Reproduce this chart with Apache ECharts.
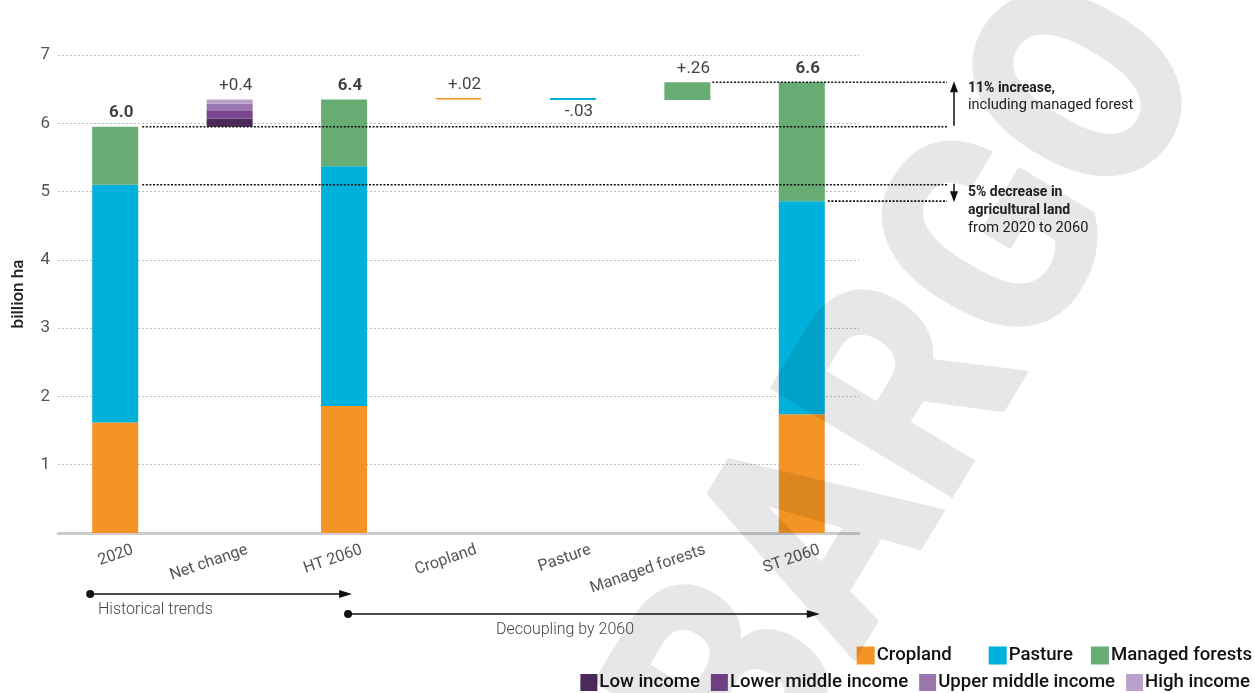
<!DOCTYPE html>
<html><head><meta charset="utf-8">
<script src="https://cdn.jsdelivr.net/npm/echarts@6/dist/echarts.min.js"></script>
<style>html,body{margin:0;padding:0;background:#fff}#c{width:1255px;height:693px}</style>
</head><body><div id="c"></div>
<script>
// ---- data ----
const categories = ['2020', 'Net change', 'HT 2060', 'Cropland', 'Pasture', 'Managed forests', 'ST 2060'];
const baseOffset = [0, 5.95, 0, 6.35, 6.34, 6.34, 0];
const cropland = [1.62, 0, 1.86, 0.02, 0, 0, 1.74];
const pasture = [3.48, 0, 3.51, 0, 0.03, 0, 3.12];
const managedForests = [0.85, 0, 0.98, 0, 0, 0.26, 1.74];
const lowIncome = [0, 0.12, 0, 0, 0, 0, 0];
const lowerMiddleIncome = [0, 0.12, 0, 0, 0, 0, 0];
const upperMiddleIncome = [0, 0.10, 0, 0, 0, 0, 0];
const highIncome = [0, 0.06, 0, 0, 0, 0, 0];
const valueLabels = ['6.0', '+0.4', '6.4', '+.02', '-.03', '+.26', '6.6'];
const labelAnchor = [5.95, 6.35, 6.35, 6.37, 6.34, 6.60, 6.60];
const labelBelow = [false, false, false, false, true, false, false];
const labelBold = [true, false, true, false, false, false, true];
const total2020 = 5.95, totalST = 6.60, agri2020 = 5.10, agri2060 = 4.86;
const yMin = 0, yMax = 7, yStep = 1;

const colors = {
  Cropland: '#F39424', Pasture: '#00B1DB', 'Managed forests': '#67AD73',
  'Low income': '#4B2A5A', 'Lower middle income': '#7A468F',
  'Upper middle income': '#9A76AE', 'High income': '#B9A1CB'
};

const chart = echarts.init(document.getElementById('c'), null, {renderer: 'canvas'});
const FONT = 'Roboto, "Noto Sans", sans-serif';

function barSeries(name, data) {
  return {
    name, type: 'bar', stack: 'w', data, barWidth: 46,
    itemStyle: {color: colors[name]}, emphasis: {disabled: true}, z: 2
  };
}
const legendText = {fontSize: 18.6, fontWeight: 500, color: '#111', fontFamily: FONT, padding: [0, 0, 0, -3]};

const option = {
  animation: false,
  textStyle: {fontFamily: FONT},
  grid: {left: 58, right: 1255 - 859, top: 55, bottom: 160, containLabel: false, outerBoundsMode: 'none'},
  xAxis: {
    type: 'category', data: categories,
    axisLine: {lineStyle: {color: '#cccccc', width: 3}},
    axisTick: {show: false}, axisLabel: {show: false}
  },
  yAxis: {
    type: 'value', min: yMin, max: yMax, interval: yStep,
    name: 'billion ha', nameLocation: 'middle', nameGap: 31, nameRotate: 90,
    nameTextStyle: {fontSize: 17, fontWeight: 500, color: '#222', fontFamily: FONT},
    axisLine: {show: false}, axisTick: {show: false},
    axisLabel: {fontSize: 17, color: '#555', margin: 8, fontFamily: FONT,
      formatter: v => v === 0 ? '' : String(v)},
    splitLine: {lineStyle: {color: '#bdbdbd', type: [2, 2], width: 1}}
  },
  legend: [
    {
      data: ['Cropland', 'Pasture', 'Managed forests'],
      formatter: n => n === 'Cropland' ? n + '\u2002\u2002' : n,
      right: 3, top: 646, itemWidth: 18, itemHeight: 18, itemGap: 18,
      icon: 'rect', padding: 0, selectedMode: false, textStyle: legendText
    },
    {
      data: ['Low income', 'Lower middle income', 'Upper middle income', 'High income'],
      right: 5, top: 673, itemWidth: 17, itemHeight: 17, itemGap: 11,
      icon: 'rect', padding: 0, selectedMode: false, textStyle: legendText
    }
  ],
  series: [
    {name: 'base', type: 'bar', stack: 'w', data: baseOffset, barWidth: 46,
      itemStyle: {color: 'transparent'}, emphasis: {disabled: true}, silent: true},
    barSeries('Cropland', cropland),
    barSeries('Pasture', pasture),
    barSeries('Managed forests', managedForests),
    barSeries('Low income', lowIncome),
    barSeries('Lower middle income', lowerMiddleIncome),
    barSeries('Upper middle income', upperMiddleIncome),
    barSeries('High income', highIncome),
    {
      name: 'labels', type: 'scatter', symbolSize: 0, silent: true, z: 5,
      data: categories.map((c, i) => ({
        value: [i, labelAnchor[i]],
        label: {
          show: true, formatter: valueLabels[i],
          position: labelBelow[i] ? 'bottom' : 'top',
          distance: labelBelow[i] ? 3 : 5,
          offset: [6, 0],
          fontSize: 17,
          fontWeight: labelBold[i] ? 'bold' : 'normal',
          color: '#111', fontFamily: FONT
        }
      }))
    }
  ]
};
chart.setOption(option);

const px = i => chart.convertToPixel({xAxisIndex: 0}, i);
const py = v => chart.convertToPixel({yAxisIndex: 0}, v);
const g = [];
const dot = {stroke: '#111', lineWidth: 1.6, lineDash: [2, 1.6]};
const annotX2 = 947, arrowX = 954;
// x-axis labels
categories.forEach((c, i) => {
  g.push({type: 'text', x: px(i) + 15, y: py(0) + 9, rotation: 19 * Math.PI / 180, silent: true,
    style: {text: c, fill: '#555', fontSize: 16, fontWeight: 'normal', fontFamily: FONT,
      align: 'right', verticalAlign: 'top', textAlign: 'right', textVerticalAlign: 'top'}});
});
// reference dotted lines
g.push({type: 'line', z: 50, silent: true, shape: {x1: px(0) + 27, y1: py(total2020), x2: annotX2, y2: py(total2020)}, style: dot});
g.push({type: 'line', z: 50, silent: true, shape: {x1: px(0) + 27, y1: py(agri2020), x2: annotX2, y2: py(agri2020)}, style: dot});
g.push({type: 'line', z: 50, silent: true, shape: {x1: px(5) + 25, y1: py(totalST), x2: annotX2, y2: py(totalST)}, style: dot});
g.push({type: 'line', z: 50, silent: true, shape: {x1: px(6) + 26, y1: py(agri2060), x2: annotX2, y2: py(agri2060)}, style: dot});
// up arrow
g.push({type: 'line', z: 50, silent: true, shape: {x1: arrowX, y1: py(total2020) - 1, x2: arrowX, y2: py(totalST) + 8}, style: {stroke: '#111', lineWidth: 1.5}});
g.push({type: 'polygon', z: 50, silent: true, shape: {points: [[arrowX - 4, py(totalST) + 10], [arrowX + 4, py(totalST) + 10], [arrowX, py(totalST) - 1]]}, style: {fill: '#111'}});
// down arrow
g.push({type: 'line', z: 50, silent: true, shape: {x1: arrowX, y1: py(agri2020) - 1, x2: arrowX, y2: py(agri2060) - 8}, style: {stroke: '#111', lineWidth: 1.5}});
g.push({type: 'polygon', z: 50, silent: true, shape: {points: [[arrowX - 4, py(agri2060) - 10], [arrowX + 4, py(agri2060) - 10], [arrowX, py(agri2060) + 1]]}, style: {fill: '#111'}});
// annotation texts
const ann = (t, x, y, bold) => g.push({type: 'text', x, y, z: 50, silent: true,
  style: {text: t, fill: '#222', fontSize: bold ? 14 : 14.6, fontWeight: bold ? 'bold' : 'normal', fontFamily: FONT,
    align: 'left', verticalAlign: 'middle', textAlign: 'left', textVerticalAlign: 'middle'}});
ann('11% increase,', 968, 88, true);
ann('including managed forest', 968, 105, false);
ann('5% decrease in', 968, 192, true);
ann('agricultural land', 968, 210, true);
ann('from 2020 to 2060', 968, 228, false);
// bottom scenario arrows
function scenArrow(x1, x2, y) {
  g.push({type: 'circle', silent: true, shape: {cx: x1, cy: y, r: 4}, style: {fill: '#111'}});
  g.push({type: 'line', silent: true, shape: {x1, y1: y, x2: x2 - 10, y2: y}, style: {stroke: '#111', lineWidth: 1.5}});
  g.push({type: 'polygon', silent: true, shape: {points: [[x2 - 13, y - 4], [x2, y], [x2 - 13, y + 4]]}, style: {fill: '#111'}});
}
scenArrow(px(0) - 25, px(2) + 8, 594);
scenArrow(px(2) + 4, px(6) + 18, 614);
g.push({type: 'text', x: 98, y: 610, silent: true, style: {text: 'Historical trends', fill: '#444', fontSize: 16, fontWeight: 300, fontFamily: FONT,
  align: 'left', verticalAlign: 'middle', textAlign: 'left', textVerticalAlign: 'middle'}});
g.push({type: 'text', x: 565, y: 630, silent: true, style: {text: 'Decoupling by 2060', fill: '#444', fontSize: 16, fontWeight: 300, fontFamily: FONT,
  align: 'center', verticalAlign: 'middle', textAlign: 'center', textVerticalAlign: 'middle'}});
// watermark (single text so overlapping glyphs do not double the tint)
const ang = 59 * Math.PI / 180;
g.push({type: 'text', x: 1150, y: 24, rotation: ang, scaleX: 0.86, scaleY: 1, z: 200, silent: true,
  style: {text: 'EMBARGO', fill: 'rgba(0,0,20,0.095)', fontSize: 300, fontWeight: 900, fontFamily: FONT,
    align: 'right', verticalAlign: 'middle', textAlign: 'right', textVerticalAlign: 'middle'}});
chart.setOption({graphic: {elements: g}});
</script>
</body></html>
